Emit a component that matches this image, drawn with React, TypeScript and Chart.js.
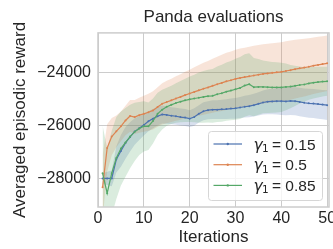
import React, { useEffect, useRef } from 'react';
import { Chart, registerables } from 'chart.js';

Chart.register(...registerables);

const iterations = Array.from({ length: 50 }, (_, i) => i + 1);

const meanG015 = [
  -28000, -28000, -28000, -27280, -26960, -26660, -26430, -26230, -26100, -25980,
  -25840, -25740, -25650, -25580, -25600, -25630, -25650, -25680, -25700, -25740,
  -25680, -25560, -25460, -25420, -25400, -25400, -25390, -25380, -25360, -25350,
  -25320, -25290, -25270, -25230, -25180, -25130, -25100, -25090, -25080, -25080,
  -25090, -25070, -25080, -25110, -25140, -25160, -25170, -25190, -25210, -25230,
];
const stdG015 = [
  200, 250, 300, 500, 600, 600, 550, 500, 450, 400,
  380, 360, 350, 340, 330, 320, 320, 320, 320, 320,
  330, 330, 340, 340, 350, 350, 360, 370, 380, 390,
  400, 410, 420, 430, 440, 450, 470, 480, 500, 520,
  520, 530, 530, 540, 540, 545, 550, 555, 555, 560,
];

const meanG05 = [
  -28330, -26850, -26420, -26220, -26030, -25810, -25640, -25680, -25610, -25560,
  -25500, -25430, -25300, -25180, -25110, -25050, -24980, -24920, -24850, -24790,
  -24730, -24670, -24610, -24560, -24500, -24440, -24390, -24330, -24290, -24240,
  -24200, -24170, -24140, -24110, -24080, -24050, -24030, -24010, -23990, -23970,
  -23940, -23910, -23870, -23840, -23810, -23780, -23740, -23710, -23680, -23650,
];
const stdG05 = [
  1200, 900, 700, 600, 560, 560, 600, 640, 660, 680,
  700, 720, 750, 780, 800, 820, 840, 860, 880, 900,
  930, 960, 980, 1000, 1020, 1040, 1060, 1080, 1090, 1100,
  1110, 1110, 1120, 1120, 1120, 1120, 1120, 1120, 1120, 1120,
  1120, 1120, 1110, 1100, 1090, 1080, 1070, 1060, 1050, 1050,
];

const meanG085 = [
  -27800, -28560, -27800, -27230, -26870, -26640, -26420, -26240, -26110, -26030,
  -26030, -25830, -25560, -25400, -25290, -25220, -25150, -25100, -25050, -25010,
  -24980, -24950, -24920, -24890, -24880, -24820, -24780, -24720, -24680, -24630,
  -24580, -24490, -24440, -24550, -24540, -24540, -24550, -24560, -24560, -24560,
  -24540, -24530, -24500, -24470, -24450, -24410, -24380, -24360, -24340, -24330,
];
const stdG085 = [
  1800, 1700, 1600, 1550, 1400, 1300, 1200, 1100, 1000, 950,
  900, 850, 800, 750, 720, 720, 750, 780, 820, 860,
  900, 950, 980, 1000, 1020, 1050, 1080, 1100, 1120, 1150,
  1170, 1180, 1170, 1100, 1050, 1000, 980, 960, 950, 930,
  880, 820, 760, 700, 650, 620, 600, 580, 560, 550,
];

const legendValues = ['0.15', '0.5', '0.85'];
const xTickValues = [0, 10, 20, 30, 40, 50];
const yTickValues = [-28000, -26000, -24000];

const BLUE = [76, 114, 176];
const ORANGE = [221, 132, 82];
const GREEN = [85, 168, 104];
const rgb = (c: number[], a = 1) => `rgba(${c[0]},${c[1]},${c[2]},${a})`;

const SANS = '"Liberation Sans", Arial, sans-serif';
const TEXT = '#262626';
const GRID = '#cccccc';

const pts = (vals: number[]) => iterations.map((x, i) => ({ x, y: vals[i] }));
const band = (m: number[], s: number[], sign: number) =>
  iterations.map((x, i) => ({ x, y: m[i] + sign * s[i] }));

const framePlugin = {
  id: 'frame',
  afterDatasetsDraw(chart: any) {
    const { ctx, chartArea: a } = chart;
    ctx.save();
    ctx.strokeStyle = GRID;
    ctx.lineWidth = 1.5;
    ctx.strokeRect(a.left, a.top, a.right - a.left, a.bottom - a.top);
    ctx.restore();
  },
};

const legendPlugin = {
  id: 'boxLegend',
  afterDraw(chart: any) {
    const { ctx, chartArea: a } = chart;
    const left = a.right - 121;
    const right = a.right - 7;
    const top = a.bottom - 76;
    const bottom = a.bottom - 7;
    ctx.save();
    ctx.beginPath();
    ctx.roundRect(left + 0.5, top + 0.5, right - left, bottom - top, 3);
    ctx.fillStyle = 'rgba(255,255,255,0.8)';
    ctx.fill();
    ctx.strokeStyle = '#d6d6d6';
    ctx.lineWidth = 1;
    ctx.stroke();
    const colors = [BLUE, ORANGE, GREEN];
    legendValues.forEach((val, i) => {
      const cy = top + 13 + i * 20.7;
      ctx.strokeStyle = rgb(colors[i]);
      ctx.lineWidth = 1.2;
      ctx.beginPath();
      ctx.moveTo(left + 5.5, cy);
      ctx.lineTo(left + 34, cy);
      ctx.stroke();
      ctx.fillStyle = rgb(colors[i]);
      ctx.beginPath();
      ctx.arc(left + 19.75, cy, 1.2, 0, Math.PI * 2);
      ctx.fill();
      const base = cy + 5.5;
      ctx.fillStyle = TEXT;
      ctx.textBaseline = 'alphabetic';
      ctx.textAlign = 'left';
      ctx.font = 'italic 15.5px "DejaVu Sans"';
      ctx.fillText('γ', left + 45.5, base);
      ctx.font = '10.5px "DejaVu Sans"';
      ctx.fillText('1', left + 54, base + 2.5);
      ctx.font = `15.5px ${SANS}`;
      ctx.fillText('= ' + val, left + 64, base);
    });
    ctx.restore();
  },
};

export default function App() {
  const ref = useRef<HTMLCanvasElement | null>(null);
  useEffect(() => {
    if (!ref.current) return;
    const series = [
      { m: meanG085, s: stdG085, c: GREEN },
      { m: meanG05, s: stdG05, c: ORANGE },
      { m: meanG015, s: stdG015, c: BLUE },
    ];
    const lineSets = series.map((d) => ({
      data: pts(d.m),
      borderColor: rgb(d.c),
      backgroundColor: rgb(d.c),
      borderWidth: 1.2,
      pointRadius: 1,
      pointBorderWidth: 0,
      pointBackgroundColor: rgb(d.c),
      fill: false,
      tension: 0,
    }));
    const bandSets: any[] = [];
    series.forEach((d) => {
      bandSets.push({
        data: band(d.m, d.s, -1),
        borderWidth: 0,
        borderColor: 'rgba(0,0,0,0)',
        pointRadius: 0,
        fill: false,
      });
      bandSets.push({
        data: band(d.m, d.s, 1),
        borderWidth: 0,
        borderColor: 'rgba(0,0,0,0)',
        pointRadius: 0,
        fill: '-1',
        backgroundColor: rgb(d.c, 0.22),
      });
    });
    const chart = new Chart(ref.current, {
      type: 'line',
      data: { datasets: [...lineSets, ...bandSets] },
      options: {
        animation: false,
        responsive: false,
        events: [],
        layout: { padding: { left: 0, right: 4, top: 0, bottom: 0 } },
        plugins: {
          legend: { display: false },
          tooltip: { enabled: false },
          title: {
            display: true,
            text: 'Panda evaluations',
            fullSize: false,
            color: TEXT,
            font: { family: SANS, size: 17, weight: 'normal', lineHeight: 1.2 },
            padding: { top: 7.5, bottom: 5 },
          },
        },
        scales: {
          x: {
            type: 'linear',
            min: 0,
            max: 50.4,
            grid: { color: GRID, lineWidth: 1, drawTicks: false },
            border: { display: false },
            afterBuildTicks: (s: any) => {
              s.ticks = xTickValues.map((value) => ({ value }));
            },
            ticks: {
              padding: 2,
              maxRotation: 0,
              autoSkip: false,
              color: TEXT,
              font: { family: SANS, size: 16 },
            },
            title: {
              display: true,
              text: 'Iterations',
              color: TEXT,
              font: { family: SANS, size: 17, lineHeight: 1.2 },
              padding: { top: 0, bottom: 1 },
            },
            afterFit: (s: any) => {
              s.height = 42;
              s.paddingLeft = 0;
              s.paddingRight = 0;
            },
          },
          y: {
            type: 'linear',
            min: -29080,
            max: -22500,
            grid: { color: GRID, lineWidth: 1, drawTicks: false },
            border: { display: false },
            afterBuildTicks: (s: any) => {
              s.ticks = yTickValues.map((value) => ({ value }));
            },
            ticks: {
              padding: 7,
              autoSkip: false,
              color: TEXT,
              font: { family: SANS, size: 16 },
              callback: (v: any) => (v < 0 ? '\u2212' : '') + Math.abs(v),
            },
            title: {
              display: true,
              text: 'Averaged episodic reward',
              color: TEXT,
              font: { family: SANS, size: 17, lineHeight: 1.2 },
              padding: { top: 10, bottom: 0 },
            },
            afterFit: (s: any) => {
              s.width = 98;
            },
          },
        },
      } as any,
      plugins: [framePlugin, legendPlugin],
    });
    return () => chart.destroy();
  }, []);
  return (
    <div style={{ position: 'fixed', left: 0, top: 0, width: 333, height: 249, background: '#fff' }}>
      <canvas ref={ref} width={333} height={249} style={{ display: 'block' }} />
    </div>
  );
}
